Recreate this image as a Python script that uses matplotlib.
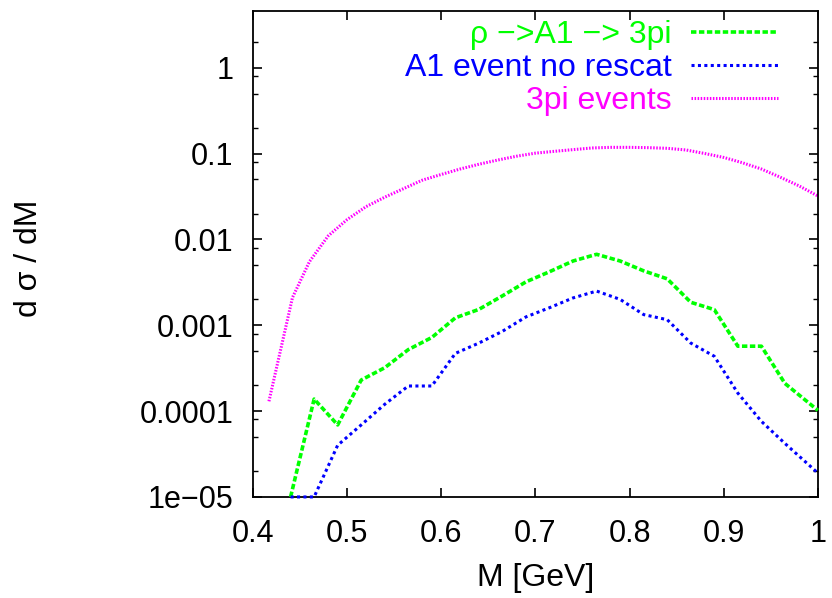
import matplotlib
matplotlib.use('Agg')
import matplotlib.pyplot as plt
from matplotlib.ticker import FixedLocator, LogLocator, NullFormatter

plt.rcParams['font.family'] = ['Liberation Sans', 'DejaVu Sans']

# invariant mass [GeV]
m_pts = [0.44, 0.465, 0.49, 0.515, 0.54, 0.565, 0.59, 0.615, 0.64, 0.665, 0.69,
         0.715, 0.74, 0.765, 0.79, 0.815, 0.84, 0.865, 0.89, 0.915, 0.94, 0.965, 1.0]
# rho -> A1 -> 3pi
rho_a1 = [1.0e-5, 1.38e-4, 6.9e-5, 2.3e-4, 3.2e-4, 5.2e-4, 7.2e-4, 1.22e-3, 1.53e-3,
          2.2e-3, 3.2e-3, 4.2e-3, 5.6e-3, 6.7e-3, 5.6e-3, 4.3e-3, 3.47e-3, 1.85e-3,
          1.52e-3, 5.7e-4, 5.7e-4, 2.1e-4, 1.02e-4]
# A1 events, no rescattering
a1_norescat = [1.0e-5, 1.0e-5, 4.0e-5, 6.9e-5, 1.2e-4, 1.96e-4, 1.96e-4, 4.7e-4, 6.2e-4,
               8.5e-4, 1.25e-3, 1.6e-3, 2.08e-3, 2.5e-3, 2.0e-3, 1.33e-3, 1.16e-3, 6.2e-4,
               4.35e-4, 1.62e-4, 7.6e-5, 4.2e-5, 1.9e-5]

# 3pi events
m_3pi = [0.417, 0.442, 0.46, 0.48, 0.50, 0.52, 0.54, 0.56, 0.58, 0.60, 0.62, 0.64, 0.66,
         0.68, 0.70, 0.72, 0.74, 0.76, 0.78, 0.80, 0.82, 0.84, 0.86, 0.88, 0.90, 0.92,
         0.94, 0.96, 0.98, 1.00]
ev_3pi = [1.3e-4, 2.1e-3, 5.5e-3, 1.1e-2, 1.7e-2, 2.4e-2, 3.1e-2, 3.9e-2, 4.9e-2, 5.7e-2,
          6.6e-2, 7.5e-2, 8.4e-2, 9.3e-2, 0.101, 0.106, 0.111, 0.116, 0.118, 0.118, 0.117,
          0.115, 0.110, 0.100, 0.090, 0.078, 0.066, 0.053, 0.042, 0.032]

yticks = [1e-5, 1e-4, 1e-3, 1e-2, 1e-1, 1]
ytick_labels = ['1e\u221205', '0.0001', '0.001', '0.01', '0.1', '1']
xticks = [0.4, 0.5, 0.6, 0.7, 0.8, 0.9, 1.0]
xtick_labels = ['0.4', '0.5', '0.6', '0.7', '0.8', '0.9', '1']

fig = plt.figure(figsize=(8.32, 5.98), dpi=100)
ax = fig.add_axes([0.304, 0.169, 0.679, 0.813])

# curves touch the lower frame, so draw them on top of it (gnuplot style)
ax.plot(m_pts, rho_a1, color='#00ff00', lw=2.6, linestyle=(0, (1.5, 0.7)),
        label='\u03c1 \u2212>A1 \u2212> 3pi', clip_on=False, zorder=3)
ax.plot(m_pts, a1_norescat, color='#0000ff', lw=2.2, linestyle=(0, (1, 1.1)),
        label='A1 event no rescat', clip_on=False, zorder=3)
ax.plot(m_3pi, ev_3pi, color='#ff00ff', lw=2.2, linestyle=(0, (0.5, 0.5)),
        label='3pi events')

ax.set_yscale('log')
ax.set_xlim(0.4, 1.0)
ax.set_ylim(1e-5, 4.6)

ax.yaxis.set_major_locator(FixedLocator(yticks))
ax.set_yticklabels(ytick_labels)
ax.yaxis.set_minor_locator(LogLocator(base=10, subs=[2, 5, 8]))
ax.yaxis.set_minor_formatter(NullFormatter())
ax.set_xticks(xticks)
ax.set_xticklabels(xtick_labels)

ax.tick_params(which='both', direction='in', top=True, right=True, labelsize=22)
ax.tick_params(which='major', length=6.5, width=1.2)
ax.tick_params(which='minor', length=3.6, width=1.0)
ax.tick_params(axis='y', pad=14)
ax.tick_params(axis='x', pad=16)
for s in ax.spines.values():
    s.set_linewidth(1.3)

ax.set_xlabel('M [GeV]', fontsize=23, labelpad=10)
ax.set_ylabel('d \u03c3 / dM', fontsize=23)
ax.yaxis.set_label_coords(-0.37, 0.49)

ax.legend(loc='upper right', bbox_to_anchor=(0.929, 0.981), frameon=False,
          markerfirst=False, fontsize=23, handlelength=2.7, handletextpad=0.63,
          labelspacing=0.09, borderpad=0, borderaxespad=0, labelcolor='linecolor')

plt.savefig('out.png', dpi=100)
